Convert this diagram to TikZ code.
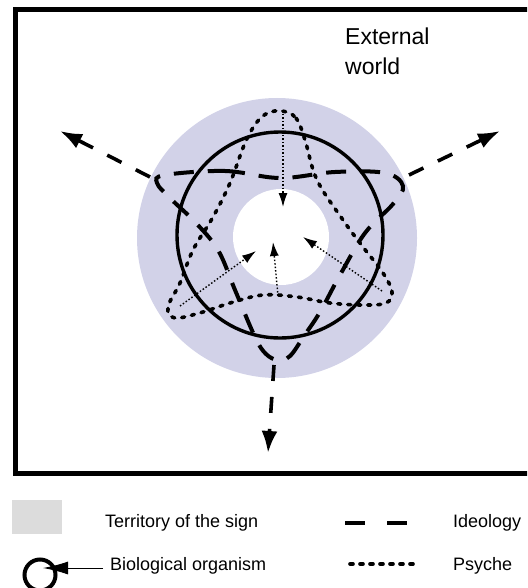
\documentclass[tikz,border=0pt]{standalone}
\usepackage{fontspec}
\setmainfont{Liberation Sans}
\usetikzlibrary{arrows.meta}
\definecolor{FigureInk}{HTML}{000000}
\definecolor{SignShade}{RGB}{210,210,232}
\definecolor{KeyShade}{RGB}{220,220,220}
\tikzset{
  figure/.style={x=1pt,y=-1pt,text=FigureInk},
  organism/.style={draw=FigureInk,line width=3.4pt},
  ideology/.style={draw=FigureInk,line width=4pt,dash pattern=on 20pt off 14pt},
  psyche/.style={draw=FigureInk,line width=3.6pt,line cap=round,dash pattern=on 3pt off 7pt},
  outflow/.style={-{Latex[length=22pt,width=16pt]},draw=FigureInk,line width=3.6pt,dash pattern=on 16pt off 16pt},
  inflow/.style={-{Latex[length=14pt,width=9pt]},draw=FigureInk,line width=1.4pt,dash pattern=on 1.5pt off 2pt},
  keytext/.style={font=\fontsize{18}{21}\selectfont,anchor=base west,inner sep=0pt},
}

\begin{document}
\begin{tikzpicture}[figure]
  \useasboundingbox (0,0) rectangle (527,588);
  \clip (0,0) rectangle (527,588);
  \draw[line width=5pt] (545,9.5) -| (15,473) -- (545,473);

  \fill[SignShade] (277,238) circle[radius=140];
  \fill[white] (281,237) circle[radius=48];

  \node[font=\fontsize{23}{30}\selectfont,align=left,anchor=base west,inner sep=0pt] (world) at (345,75)
    {External\\world};

  \coordinate (IdLeft) at (150,177);
  \coordinate (IdRight) at (409,175);
  \coordinate (IdBottom) at (274,365);
  \coordinate (OutLeft) at (60,131);
  \coordinate (OutRight) at (500,131);
  \coordinate (OutBottom) at (268,453);
  \draw[ideology] plot[smooth cycle,tension=0.6] coordinates {
    (165,175) (225,171) (280,178) (335,172) (385,173) (403,186) (393,204)
    (365,233) (340,275) (320,312) (304,336) (290,356) (278,360) (266,354)
    (255,337) (235,290) (218,250) (195,222) (171,199) (157,183)};
  \draw[outflow] (IdLeft) -- (OutLeft);
  \draw[outflow] (IdRight) -- (OutRight);
  \draw[outflow] (IdBottom) -- (OutBottom);

  \draw[organism] (280,235) circle[radius=103];

  \coordinate (PsTop) at (283,114);
  \coordinate (PsLeft) at (180,306);
  \coordinate (PsRight) at (382,291);
  \coordinate (PsBase) at (278,296);
  \coordinate (InTop) at (283,207);
  \coordinate (InBase) at (273,242);
  \coordinate (InLeft) at (256,251);
  \coordinate (InRight) at (303,237);
  \draw[psyche] plot[smooth cycle,tension=0.6] coordinates {
    (282,111) (296,118) (305,140) (317,180) (343,220) (363,247) (383,273)
    (392,292) (386,303) (363,305) (330,303) (297,297) (263,295) (230,303)
    (203,312) (175,318) (168,307) (180,283) (193,250) (213,217) (230,183)
    (245,143) (257,122) (268,113)};
  \draw[inflow] (PsTop) -- (InTop);
  \draw[inflow] (PsBase) -- (InBase);
  \draw[inflow] (PsLeft) -- (InLeft);
  \draw[inflow] (PsRight) -- (InRight);

  \fill[KeyShade] (12,500) rectangle (62,534);
  \node[keytext] (signkey) at (105,527) {Territory of the sign};
  \node[circle,draw=FigureInk,line width=4pt,minimum size=31pt,inner sep=0pt] (orgring) at (40,575) {};
  \coordinate (OrgLead) at (103,568);
  \coordinate (OrgTip) at (43,568);
  \draw[-{Latex[length=25pt,width=13pt]},line width=1pt] (OrgLead) -- (OrgTip);
  \node[keytext] (orgkey) at (110,570) {Biological organism};
  \draw[ideology,dash pattern=on 20pt off 22pt] (345,523) -- (408,523);
  \node[keytext] (idkey) at (453,527) {Ideology};
  \draw[psyche] (350,564) -- (418,564);
  \node[keytext] (pskey) at (453,570) {Psyche};
\end{tikzpicture}
\end{document}
